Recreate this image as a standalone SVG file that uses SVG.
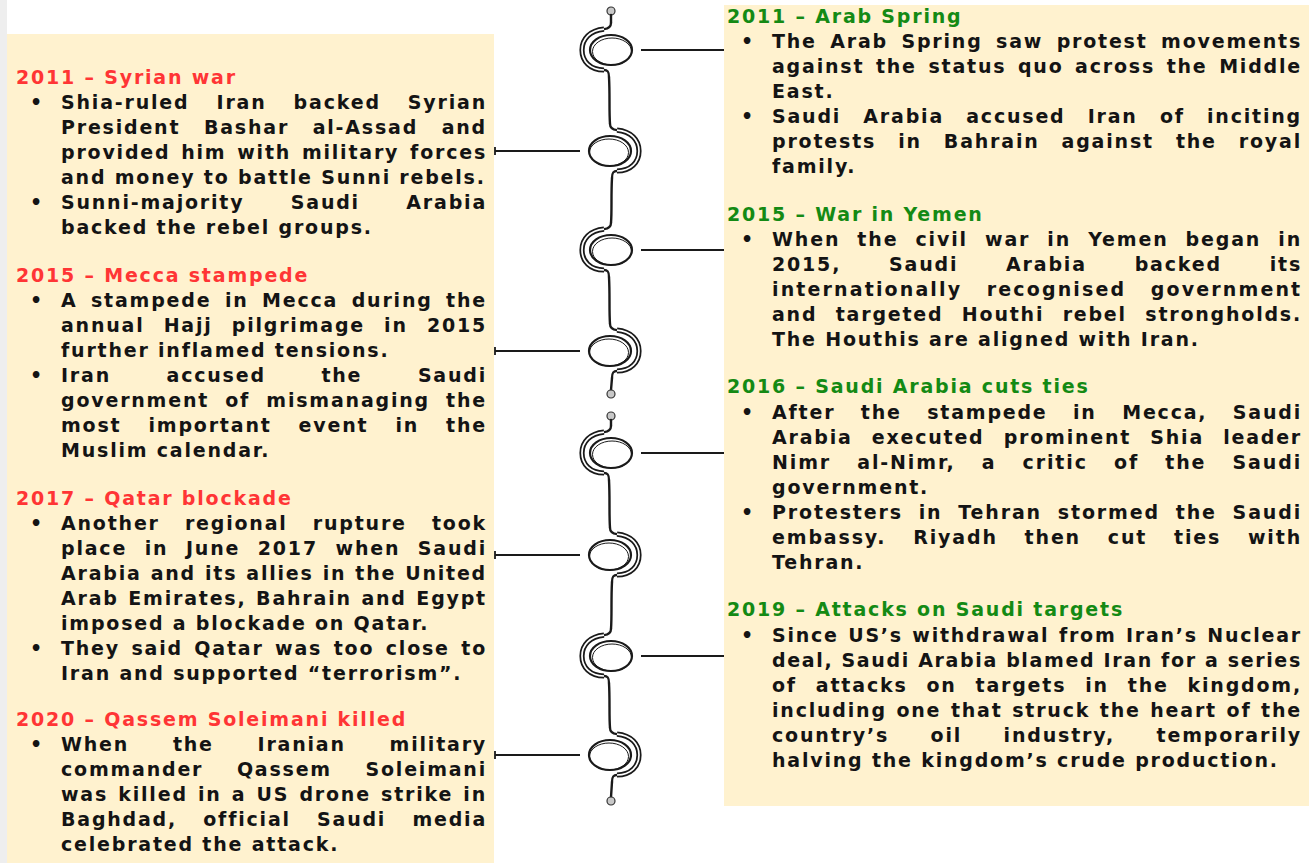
<svg xmlns="http://www.w3.org/2000/svg" xmlns:xlink="http://www.w3.org/1999/xlink" width="1312" height="863" viewBox="0 0 1312 863">
<style>
.t{font-family:"DejaVu Sans","Liberation Sans",sans-serif;font-weight:bold;font-size:19px;letter-spacing:1.8px;fill:#141414}
.hr{fill:#ff3535}
.hg{fill:#148a14}
.box{fill:#fff2cf}
.wo{fill:none;stroke:#1a1a1a;stroke-width:5.2}
.wi{fill:none;stroke:#ffffff;stroke-width:1.7}
.tl{fill:none;stroke:#1a1a1a;stroke-width:2.3;stroke-linecap:round}
.el{fill:none;stroke:#1a1a1a;stroke-width:2.2}
.el2{fill:none;stroke:#1a1a1a;stroke-width:1}
.vl{fill:none;stroke:#1a1a1a;stroke-width:2.4;stroke-linecap:round}
.dot{fill:#c8c8c8;stroke:#333;stroke-width:1.2}
.cn{fill:none;stroke:#1a1a1a;stroke-width:1.8}
</style>
<defs>
<g id="loopL">
<path class="tl" d="M1,-27 C1,-23 -2,-21.4 -6,-20.8 M-6,20 C-2,20 -1,22 -1,27"/>
<path class="wo" d="M-6,-20.8 C-20,-19.5 -28,-11 -28,0 C-28,11 -20,20 -6,20"/>
<path class="wi" d="M-6,-20.8 C-20,-19.5 -28,-11 -28,0 C-28,11 -20,20 -6,20"/>
<ellipse class="el" cx="1" cy="0" rx="21" ry="15"/>
<ellipse class="el2" cx="2" cy="1.5" rx="19.5" ry="13.5"/>
</g>
</defs>
<rect x="0" y="0" width="1312" height="863" fill="#ffffff"/>
<rect x="0" y="0" width="7" height="863" fill="#eeeeee"/>

<g id="timeline">
<circle class="dot" cx="611" cy="11" r="4"/>
<path class="vl" d="M611,15 L611,23 M609,77 C610,95 609,110 610,124 M612,178 C611,195 612,210 611,223 M609,277 C610,295 609,310 610,324 M612,378 L611,390"/>
<circle class="dot" cx="611" cy="394" r="4"/>
<circle class="dot" cx="611" cy="416" r="4"/>
<path class="vl" d="M611,420 L611,426 M609,480 C610,498 609,514 610,528 M612,582 C611,600 612,615 611,629 M609,683 C610,700 609,715 610,728 M612,782 L611,797"/>
<circle class="dot" cx="611" cy="801" r="4"/>
<use xlink:href="#loopL" transform="translate(610,50)"/>
<use xlink:href="#loopL" transform="translate(611,151) scale(-1,1)"/>
<use xlink:href="#loopL" transform="translate(610,250)"/>
<use xlink:href="#loopL" transform="translate(611,351) scale(-1,1)"/>
<use xlink:href="#loopL" transform="translate(610,453)"/>
<use xlink:href="#loopL" transform="translate(611,555) scale(-1,1)"/>
<use xlink:href="#loopL" transform="translate(610,656)"/>
<use xlink:href="#loopL" transform="translate(611,755) scale(-1,1)"/>
</g>

<g id="connectors">
<path class="cn" d="M641,50 H726 M726,46 V54"/>
<path class="cn" d="M641,250 H726 M726,246 V254"/>
<path class="cn" d="M641,453 H726 M726,449 V457"/>
<path class="cn" d="M641,656 H726 M726,652 V660"/>
<path class="cn" d="M580,151 H495 M495,147 V155"/>
<path class="cn" d="M580,351 H495 M495,347 V355"/>
<path class="cn" d="M580,555 H495 M495,551 V559"/>
<path class="cn" d="M580,755 H495 M495,751 V759"/>
</g>

<g id="left-panel">
<rect class="box" x="7" y="34" width="487" height="829"/>
</g>
<g id="right-panel">
<rect class="box" x="724" y="5" width="585" height="801"/>
</g>

<g id="event-2011-syrian-war">
<text class="t hr" x="16" y="84">2011 – Syrian war</text>
<text class="t" x="30" y="109">•</text>
<text class="t" x="61" y="109" textLength="426" lengthAdjust="spacing" word-spacing="18.6">Shia-ruled Iran backed Syrian</text>
<text class="t" x="61" y="134" textLength="426" lengthAdjust="spacing" word-spacing="15.2">President Bashar al-Assad and</text>
<text class="t" x="61" y="159" textLength="426" lengthAdjust="spacing" word-spacing="2.4">provided him with military forces</text>
<text class="t" x="61" y="184">and money to battle Sunni rebels.</text>
<text class="t" x="30" y="209">•</text>
<text class="t" x="61" y="209" textLength="426" lengthAdjust="spacing" word-spacing="38">Sunni-majority Saudi Arabia</text>
<text class="t" x="61" y="234">backed the rebel groups.</text>
</g>

<g id="event-2015-mecca-stampede">
<text class="t hr" x="16" y="282">2015 – Mecca stampede</text>
<text class="t" x="30" y="307">•</text>
<text class="t" x="61" y="307" textLength="426" lengthAdjust="spacing" word-spacing="5.1">A stampede in Mecca during the</text>
<text class="t" x="61" y="332" textLength="426" lengthAdjust="spacing" word-spacing="10.7">annual Hajj pilgrimage in 2015</text>
<text class="t" x="61" y="357">further inflamed tensions.</text>
<text class="t" x="30" y="382">•</text>
<text class="t" x="61" y="382" textLength="426" lengthAdjust="spacing" word-spacing="47.2">Iran accused the Saudi</text>
<text class="t" x="61" y="407" textLength="426" lengthAdjust="spacing" word-spacing="7.7">government of mismanaging the</text>
<text class="t" x="61" y="432" textLength="426" lengthAdjust="spacing" word-spacing="18.6">most important event in the</text>
<text class="t" x="61" y="457">Muslim calendar.</text>
</g>

<g id="event-2017-qatar-blockade">
<text class="t hr" x="16" y="505">2017 – Qatar blockade</text>
<text class="t" x="30" y="530">•</text>
<text class="t" x="61" y="530" textLength="426" lengthAdjust="spacing" word-spacing="16.8">Another regional rupture took</text>
<text class="t" x="61" y="555" textLength="426" lengthAdjust="spacing" word-spacing="9.2">place in June 2017 when Saudi</text>
<text class="t" x="61" y="580" textLength="426" lengthAdjust="spacing" word-spacing="0.6">Arabia and its allies in the United</text>
<text class="t" x="61" y="605" textLength="426" lengthAdjust="spacing" word-spacing="1.2">Arab Emirates, Bahrain and Egypt</text>
<text class="t" x="61" y="630">imposed a blockade on Qatar.</text>
<text class="t" x="30" y="655">•</text>
<text class="t" x="61" y="655" textLength="426" lengthAdjust="spacing" word-spacing="3.1">They said Qatar was too close to</text>
<text class="t" x="61" y="680">Iran and supported “terrorism”.</text>
</g>

<g id="event-2020-soleimani">
<text class="t hr" x="16" y="726">2020 – Qassem Soleimani killed</text>
<text class="t" x="30" y="751">•</text>
<text class="t" x="61" y="751" textLength="426" lengthAdjust="spacing" word-spacing="35.4">When the Iranian military</text>
<text class="t" x="61" y="776" textLength="426" lengthAdjust="spacing" word-spacing="25.2">commander Qassem Soleimani</text>
<text class="t" x="61" y="801" textLength="426" lengthAdjust="spacing" word-spacing="1.7">was killed in a US drone strike in</text>
<text class="t" x="61" y="826" textLength="426" lengthAdjust="spacing" word-spacing="17.8">Baghdad, official Saudi media</text>
<text class="t" x="61" y="851">celebrated the attack.</text>
</g>

<g id="event-2011-arab-spring">
<text class="t hg" x="727" y="23">2011 – Arab Spring</text>
<text class="t" x="741" y="48">•</text>
<text class="t" x="772" y="48" textLength="530" lengthAdjust="spacing" word-spacing="5.1">The Arab Spring saw protest movements</text>
<text class="t" x="772" y="73" textLength="530" lengthAdjust="spacing" word-spacing="3.2">against the status quo across the Middle</text>
<text class="t" x="772" y="98">East.</text>
<text class="t" x="741" y="123">•</text>
<text class="t" x="772" y="123" textLength="530" lengthAdjust="spacing" word-spacing="13.8">Saudi Arabia accused Iran of inciting</text>
<text class="t" x="772" y="148" textLength="530" lengthAdjust="spacing" word-spacing="13.6">protests in Bahrain against the royal</text>
<text class="t" x="772" y="173">family.</text>
</g>

<g id="event-2015-war-in-yemen">
<text class="t hg" x="727" y="221">2015 – War in Yemen</text>
<text class="t" x="741" y="246">•</text>
<text class="t" x="772" y="246" textLength="530" lengthAdjust="spacing" word-spacing="8.6">When the civil war in Yemen began in</text>
<text class="t" x="772" y="271" textLength="530" lengthAdjust="spacing" word-spacing="39.4">2015, Saudi Arabia backed its</text>
<text class="t" x="772" y="296" textLength="530" lengthAdjust="spacing" word-spacing="15.9">internationally recognised government</text>
<text class="t" x="772" y="321" textLength="530" lengthAdjust="spacing" word-spacing="10">and targeted Houthi rebel strongholds.</text>
<text class="t" x="772" y="346">The Houthis are aligned with Iran.</text>
</g>

<g id="event-2016-saudi-cuts-ties">
<text class="t hg" x="727" y="393">2016 – Saudi Arabia cuts ties</text>
<text class="t" x="741" y="419">•</text>
<text class="t" x="772" y="419" textLength="530" lengthAdjust="spacing" word-spacing="17.1">After the stampede in Mecca, Saudi</text>
<text class="t" x="772" y="444" textLength="530" lengthAdjust="spacing" word-spacing="10.7">Arabia executed prominent Shia leader</text>
<text class="t" x="772" y="469" textLength="530" lengthAdjust="spacing" word-spacing="17.7">Nimr al-Nimr, a critic of the Saudi</text>
<text class="t" x="772" y="494">government.</text>
<text class="t" x="741" y="519">•</text>
<text class="t" x="772" y="519" textLength="530" lengthAdjust="spacing" word-spacing="7.3">Protesters in Tehran stormed the Saudi</text>
<text class="t" x="772" y="544" textLength="530" lengthAdjust="spacing" word-spacing="18.3">embassy. Riyadh then cut ties with</text>
<text class="t" x="772" y="569">Tehran.</text>
</g>

<g id="event-2019-attacks">
<text class="t hg" x="727" y="616">2019 – Attacks on Saudi targets</text>
<text class="t" x="741" y="642">•</text>
<text class="t" x="772" y="642" textLength="530" lengthAdjust="spacing" word-spacing="1.1">Since US’s withdrawal from Iran’s Nuclear</text>
<text class="t" x="772" y="667" textLength="530" lengthAdjust="spacing" word-spacing="0">deal, Saudi Arabia blamed Iran for a series</text>
<text class="t" x="772" y="692" textLength="530" lengthAdjust="spacing" word-spacing="10.5">of attacks on targets in the kingdom,</text>
<text class="t" x="772" y="717" textLength="530" lengthAdjust="spacing" word-spacing="1.2">including one that struck the heart of the</text>
<text class="t" x="772" y="742" textLength="530" lengthAdjust="spacing" word-spacing="33">country’s oil industry, temporarily</text>
<text class="t" x="772" y="767">halving the kingdom’s crude production.</text>
</g>
</svg>
